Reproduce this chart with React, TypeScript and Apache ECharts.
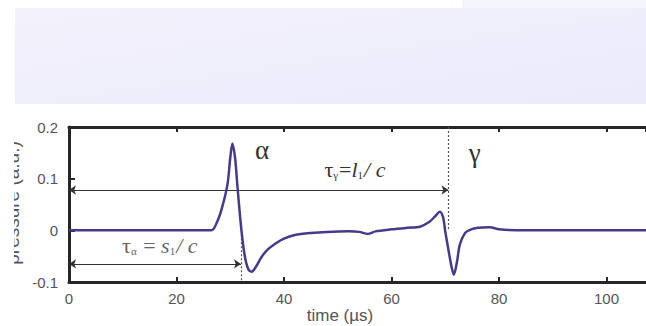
import React, { useEffect, useRef } from "react";
import * as echarts from "echarts";

const times = [0, 10, 20, 26.5, 27.5, 28.5, 29.5, 30.0, 30.4, 30.9, 31.3, 31.8, 32.3, 32.8, 33.4, 34.0, 34.8, 35.8, 37, 38.5, 40, 42, 45, 48, 52, 54, 55.6, 57, 60, 63, 65.3, 67, 68.1, 69.0, 69.6, 70.0, 70.6, 71.2, 71.6, 72.2, 72.7, 73.7, 74.6, 76.1, 78.3, 80, 85, 90, 100, 107.35];
const pressure = [0, 0, 0, 0, 0.015, 0.045, 0.09, 0.14, 0.168, 0.14, 0.09, 0.03, -0.02, -0.055, -0.076, -0.08, -0.07, -0.052, -0.037, -0.025, -0.016, -0.009, -0.005, -0.003, -0.002, -0.003, -0.007, -0.002, 0.002, 0.005, 0.007, 0.016, 0.027, 0.036, 0.025, -0.002, -0.038, -0.072, -0.086, -0.06, -0.028, -0.005, 0.001, 0.005, 0.006, 0.002, 0, 0, 0, 0];

const xTicks = [0, 20, 40, 60, 80, 100];
const yTicks = [-0.1, 0, 0.1, 0.2];

const tauAlpha = { t: 32, level: -0.065 };
const tauGamma = { t: 70.6, level: 0.078 };

const SERIF = '"Liberation Serif", "DejaVu Serif", serif';
const SANS = '"Liberation Sans", Arial, sans-serif';

export default function App() {
  const ref = useRef<HTMLDivElement>(null);
  useEffect(() => {
    const chart = echarts.init(ref.current!, null, { renderer: "svg" });
    const data = times.map((t, i) => [t, pressure[i]]);
    const fmtY = (v: number) => {
      const r = Math.round(v * 10) / 10;
      return r === 0 ? "0" : r.toFixed(1);
    };
    const fmtX = (v: number) => (xTicks.includes(Math.round(v * 1000) / 1000) ? String(v) : "");
    const axisLine = { onZero: false, lineStyle: { color: "#262626", width: 3 } };
    const tick = { inside: true, length: 5, lineStyle: { color: "#262626", width: 2 } };
    chart.setOption({
      animation: false,
      backgroundColor: "#ffffff",
      grid: { left: 69, top: 127, right: 0, height: 155 },
      xAxis: [
        {
          type: "value",
          min: 0,
          max: 107.35,
          interval: 20,
          position: "bottom",
          axisLine,
          axisTick: tick,
          axisLabel: { formatter: fmtX, color: "#555", fontSize: 15, fontFamily: SANS, margin: 9, showMaxLabel: false },
          splitLine: { show: false },
        },
        {
          type: "value",
          min: 0,
          max: 107.35,
          interval: 20,
          position: "top",
          axisLine,
          axisTick: tick,
          axisLabel: { show: false },
          splitLine: { show: false },
        },
      ],
      yAxis: {
        type: "value",
        min: yTicks[0],
        max: yTicks[yTicks.length - 1],
        interval: 0.1,
        axisLine: { show: true, ...axisLine },
        axisTick: { show: true, inside: true, length: 6, lineStyle: { color: "#262626", width: 2 } },
        axisLabel: { formatter: fmtY, color: "#555", fontSize: 15, fontFamily: SANS, margin: 11 },
        splitLine: { show: false },
      },
      series: [
        {
          type: "line",
          data,
          smooth: 0.3,
          symbol: "none",
          lineStyle: { color: "#473a8c", width: 2.5 },
          z: 5,
          markLine: {
            silent: true,
            animation: false,
            label: { show: false },
            data: [
              [
                { coord: [0, tauGamma.level], symbol: "arrow", symbolSize: 7, lineStyle: { color: "#333", width: 1, type: "solid" } },
                { coord: [tauGamma.t, tauGamma.level], symbol: "arrow", symbolSize: 7 },
              ],
              [
                { coord: [0, tauAlpha.level], symbol: "arrow", symbolSize: 7, lineStyle: { color: "#333", width: 1, type: "solid" } },
                { coord: [tauAlpha.t, tauAlpha.level], symbol: "arrow", symbolSize: 7 },
              ],
              [
                { coord: [tauGamma.t, 0.2], symbol: "none", lineStyle: { color: "#555", width: 1.2, type: [2, 2] } },
                { coord: [tauGamma.t, 0.0], symbol: "none" },
              ],
              [
                { coord: [tauAlpha.t, 0.0], symbol: "none", lineStyle: { color: "#555", width: 1.2, type: [2, 2] } },
                { coord: [tauAlpha.t, -0.1], symbol: "none" },
              ],
            ],
          },
          markPoint: {
            silent: true,
            symbol: "circle",
            symbolSize: 0,
            data: [
              {
                coord: [35.9, 0.156],
                label: { show: true, position: "inside", formatter: "α", fontFamily: SERIF, fontSize: 27, color: "#333" },
              },
              {
                coord: [75.5, 0.15],
                label: { show: true, position: "inside", formatter: "γ", fontFamily: SERIF, fontSize: 27, color: "#333" },
              },
              {
                coord: [53.2, 0.117],
                label: {
                  show: true,
                  position: "inside",
                  formatter: "{t|τ}{s|γ}{t|=}{i|l}{s|1}{i|/ c}",
                  rich: {
                    t: { fontFamily: SERIF, fontSize: 22, color: "#333" },
                    i: { fontFamily: SERIF, fontSize: 22, fontStyle: "italic", color: "#333" },
                    s: { fontFamily: SERIF, fontSize: 11, color: "#333", verticalAlign: "bottom", padding: [9, 1, 0, 0] },
                  },
                },
              },
              {
                coord: [16.9, -0.03],
                label: {
                  show: true,
                  position: "inside",
                  formatter: "{t|τ}{s|α}{t| = }{i|s}{s|1}{i|/ c}",
                  rich: {
                    t: { fontFamily: SERIF, fontSize: 22, color: "#666" },
                    i: { fontFamily: SERIF, fontSize: 22, fontStyle: "italic", color: "#666" },
                    s: { fontFamily: SERIF, fontSize: 11, color: "#666", verticalAlign: "bottom", padding: [9, 1, 0, 0] },
                  },
                },
              },
            ],
          },
        },
      ],
      graphic: [
        {
          type: "rect",
          shape: { x: 15, y: 8, width: 631, height: 96 },
          style: {
            fill: new echarts.graphic.LinearGradient(0, 0, 1, 1, [
              { offset: 0, color: "#f3f1fb" },
              { offset: 1, color: "#ebebfc" },
            ]),
          },
          z: -1,
        },
        {
          type: "rect",
          shape: { x: 462, y: 0, width: 184, height: 8 },
          style: { fill: "#f5f5fd" },
          z: -1,
        },
        {
          type: "text",
          x: 12,
          y: 203,
          rotation: Math.PI / 2,
          style: { text: "pressure (a.u.)", font: `19px ${SANS}`, fill: "#555", textAlign: "center", textVerticalAlign: "middle" },
          z: 1,
        },
        {
          type: "rect",
          shape: { x: 0, y: 110, width: 14, height: 200 },
          style: { fill: "#ffffff" },
          z: 2,
        },
        {
          type: "text",
          x: 340,
          y: 315,
          style: { text: "time (µs)", font: `17px ${SANS}`, fill: "#555", textAlign: "center", textVerticalAlign: "middle" },
          z: 1,
        },
      ],
    });
    return () => chart.dispose();
  }, []);
  return <div ref={ref} style={{ position: "fixed", left: 0, top: 0, width: 646, height: 326 }} />;
}
